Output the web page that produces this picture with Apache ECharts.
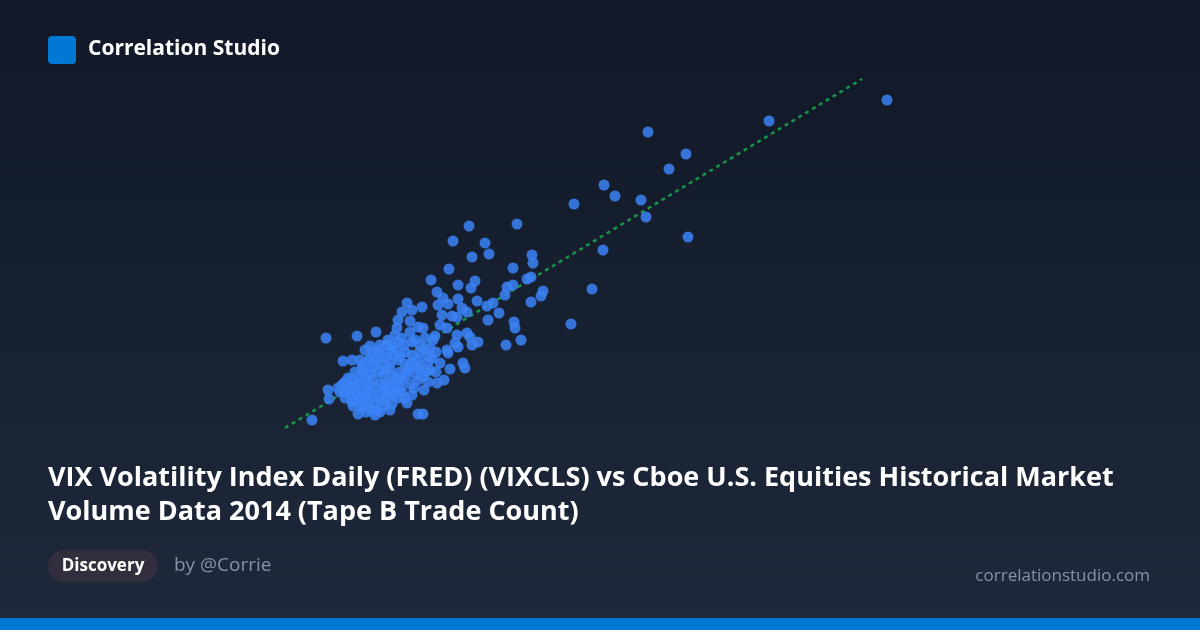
<!DOCTYPE html>
<html>
<head>
<meta charset="utf-8">
<script src="https://cdn.jsdelivr.net/npm/echarts@6/dist/echarts.min.js"></script>
<style>
  html, body { margin: 0; padding: 0; background: #111827; }
  #chart { width: 1200px; height: 630px; }
</style>
</head>
<body>
<div id="chart"></div>
<script>
// ---- Data ----
const brandName = 'Correlation Studio';
const titleLines = [
  'VIX Volatility Index Daily (FRED) (VIXCLS) vs Cboe U.S. Equities Historical Market',
  'Volume Data 2014 (Tape B Trade Count)'
];
const badgeText = 'Discovery';
const authorText = 'by @Corrie';
const siteText = 'correlationstudio.com';

// x: VIX close, y: Tape B trade count (thousands)
const vixValues = [
  21.74, 19.38, 16.96, 17.72, 17.38, 16.08, 16.30, 16.82, 15.48, 16.92,
  14.34, 17.76, 16.06, 14.64, 14.66, 14.26, 14.14, 14.26, 14.54, 14.62,
  14.10, 14.86, 14.82, 14.62, 15.84, 13.98, 14.28, 14.30, 15.42, 14.42,
  14.12, 13.38, 13.06, 13.70, 13.44, 13.78, 12.98, 12.62, 13.16, 13.50,
  13.42, 12.74, 12.86, 13.16, 13.54, 12.96, 12.76, 12.14, 12.04, 12.24,
  12.44, 13.24, 13.74, 13.86, 13.14, 13.34, 12.84, 13.04, 13.76, 11.96,
  12.20, 10.52, 11.14, 11.52, 12.36, 12.46, 11.94, 13.26, 13.30, 13.00,
  10.86, 11.04, 11.20, 10.56, 10.58, 10.24, 11.06, 11.24, 11.40, 11.56,
  12.14, 12.36, 12.46, 12.04, 12.48, 12.72, 13.10, 13.16, 13.34, 13.40,
  13.56, 13.44, 13.14, 12.80, 12.94, 12.70, 12.94, 12.96, 12.80, 12.66,
  10.96, 10.84, 11.00,
  11.90, 12.04, 12.20, 12.30, 12.50, 11.76, 11.60, 11.84, 12.08, 12.40,
  12.60, 11.30, 11.44, 11.60, 11.76, 11.92, 12.10, 12.24, 12.40, 12.56,
  12.72, 11.40, 11.24, 11.36, 11.50, 11.64, 11.80, 11.96, 12.10, 12.24,
  12.40, 12.56, 11.70, 11.10, 11.24, 11.40, 11.56, 11.70, 11.84, 12.00,
  12.16, 12.30, 12.46, 12.60, 11.30, 10.90, 11.04, 11.16, 11.32, 11.46,
  11.60, 11.76, 11.90, 12.04, 12.20, 12.36, 12.56, 10.80, 10.96, 11.12,
  11.24, 11.40, 11.56, 11.72, 11.86, 12.00, 12.24, 10.76, 10.90, 11.04,
  11.20, 11.36, 11.50, 11.68, 11.84, 11.96, 12.10, 11.44, 11.16, 11.32,
  11.50, 11.60, 11.80, 11.70, 12.64, 12.36, 12.52, 12.28, 12.74, 12.88,
  11.50, 11.66, 11.80, 11.92, 11.20, 11.36, 11.52, 11.68, 11.84, 11.00,
  11.14, 11.32, 11.60, 11.76, 11.90, 12.00, 12.12, 12.20, 12.00, 11.86,
  11.74, 11.56, 11.40, 11.28, 11.44, 10.90, 11.10, 11.26, 11.44, 12.24,
  11.96, 12.50, 12.36, 11.70
];
const tradeCounts = [
  1000, 958, 936, 892, 862, 830, 808, 800, 792, 766,
  752, 726, 700, 690, 674, 664, 626, 630, 642, 646,
  610, 618, 608, 596, 622, 574, 556, 544, 552, 520,
  510, 748, 718, 714, 686, 692, 662, 640, 630, 638,
  624, 616, 604, 602, 598, 592, 590, 594, 576, 580,
  586, 584, 588, 594, 566, 576, 570, 568, 560, 560,
  558, 524, 528, 536, 546, 544, 544, 474, 464, 462,
  478, 480, 480, 420, 402, 360, 388, 386, 384, 380,
  394, 372, 372, 416, 420, 456, 514, 506, 534, 526,
  516, 510, 530, 550, 544, 528, 500, 494, 474, 520,
  444, 430, 414,
  530, 524, 536, 520, 524, 520, 510, 508, 510, 510,
  504, 500, 496, 490, 496, 500, 496, 490, 496, 488,
  496, 508, 470, 476, 480, 472, 476, 480, 472, 476,
  468, 476, 484, 456, 460, 452, 456, 460, 450, 456,
  460, 452, 448, 460, 444, 436, 440, 432, 428, 440,
  432, 436, 428, 440, 432, 440, 436, 416, 420, 424,
  412, 420, 410, 416, 408, 424, 410, 424, 404, 396,
  404, 400, 392, 400, 392, 404, 404, 408, 372, 376,
  370, 376, 380, 390, 484, 480, 456, 424, 434, 440,
  470, 450, 464, 444, 444, 432, 424, 420, 430, 428,
  412, 408, 400, 408, 416, 444, 450, 468, 488, 490,
  510, 500, 484, 456, 464, 416, 400, 390, 380, 516,
  516, 500, 464, 430
];
// trend line end points (VIX, trade count)
const trendVix = [9.70, 21.24];
const trendCount = [344, 1042];

// ---- Build ----
const points = vixValues.map((v, i) => [v, tradeCounts[i]]);
const trend = trendVix.map((v, i) => [v, trendCount[i]]);

const chart = echarts.init(document.getElementById('chart'), null, { renderer: 'canvas' });
const fontFamily = '"Open Sans", "Noto Sans", sans-serif';

chart.setOption({
  animation: false,
  backgroundColor: {
    type: 'linear', x: 0, y: 0, x2: 0, y2: 1,
    colorStops: [
      { offset: 0, color: '#111827' },
      { offset: 1, color: '#1e293b' }
    ]
  },
  grid: { left: 260, right: 300, top: 60, bottom: 190 },
  xAxis: { type: 'value', min: 9.2, max: 22, show: false },
  yAxis: { type: 'value', min: 320, max: 1080, show: false },
  series: [
    {
      type: 'line',
      data: trend,
      symbol: 'none',
      z: 1,
      lineStyle: { color: '#16a34a', width: 2.5, type: [4, 4], opacity: 0.9 },
      silent: true
    },
    {
      type: 'scatter',
      data: points,
      symbolSize: 11,
      z: 2,
      itemStyle: { color: '#3b82f6', opacity: 0.85 }
    }
  ],
  graphic: [
    { type: 'rect', left: 48, top: 36, shape: { width: 28, height: 28, r: 4 }, style: { fill: '#0078d4' } },
    { type: 'text', left: 88, top: 39, style: { text: brandName, fill: '#ffffff', font: 'bold 21px ' + fontFamily } },
    { type: 'text', left: 48, top: 465, style: { text: titleLines[0], fill: '#ffffff', font: 'bold 27px ' + fontFamily } },
    { type: 'text', left: 48, top: 499, style: { text: titleLines[1], fill: '#ffffff', font: 'bold 27px ' + fontFamily } },
    { type: 'rect', left: 48, top: 550, shape: { width: 110, height: 32, r: 16 }, style: { fill: '#332e3e' } },
    { type: 'text', x: 103, y: 566, style: { text: badgeText, fill: '#ffffff', font: 'bold 17px ' + fontFamily, align: 'center', verticalAlign: 'middle' } },
    { type: 'text', x: 174, y: 566, style: { text: authorText, fill: '#8493a8', font: '19px ' + fontFamily, align: 'left', verticalAlign: 'middle' } },
    { type: 'text', x: 1150, y: 576, style: { text: siteText, fill: '#8493a8', font: '17px ' + fontFamily, align: 'right', verticalAlign: 'middle' } },
    { type: 'rect', left: 0, top: 618, shape: { width: 1200, height: 12 }, style: { fill: '#0078d4' } }
  ]
});
</script>
</body>
</html>
